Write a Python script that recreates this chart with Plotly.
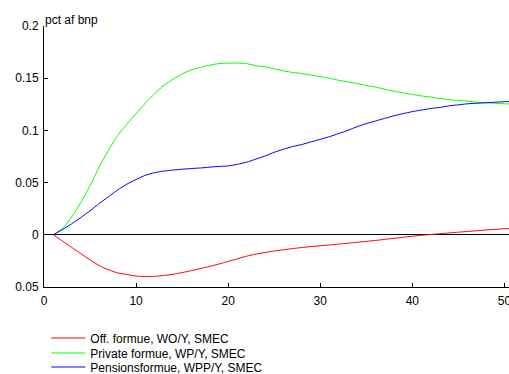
import plotly.graph_objects as go

# Years after the shock
years = list(range(1, 52))

# Off. formue, WO/Y (public wealth, share of GDP)
off_formue = [
    0.0, -0.006, -0.012, -0.018, -0.024, -0.0295, -0.0335, -0.0365, -0.038, -0.0395,
    -0.040, -0.0398, -0.039, -0.0378, -0.0362, -0.0343, -0.0323, -0.0303, -0.028, -0.0255,
    -0.023, -0.0205, -0.0185, -0.017, -0.0155, -0.0143, -0.0132, -0.0122, -0.0113, -0.0105,
    -0.0097, -0.0089, -0.0081, -0.0072, -0.0063, -0.0054, -0.0044, -0.0034, -0.0024, -0.0014,
    -0.0005, 0.0003, 0.001, 0.0018, 0.0025, 0.0032, 0.0039, 0.0046, 0.0052, 0.0058,
    0.0063,
]

# Private formue, WP/Y
private_formue = [
    0.0, 0.006, 0.017, 0.031, 0.047, 0.065, 0.081, 0.095, 0.106, 0.116,
    0.126, 0.135, 0.143, 0.149, 0.154, 0.158, 0.1605, 0.1625, 0.164, 0.1645,
    0.1645, 0.164, 0.162, 0.161, 0.159, 0.157, 0.1555, 0.1545, 0.153, 0.1515,
    0.150, 0.148, 0.1465, 0.145, 0.143, 0.1415, 0.1395, 0.1375, 0.136, 0.1345,
    0.133, 0.132, 0.1305, 0.1295, 0.1285, 0.128, 0.127, 0.1265, 0.126, 0.1255,
    0.125,
]

# Pensionsformue, WPP/Y
pensionsformue = [
    0.0, 0.005, 0.0105, 0.0165, 0.023, 0.030, 0.0365, 0.043, 0.0485, 0.053,
    0.057, 0.0595, 0.061, 0.062, 0.0628, 0.0635, 0.064, 0.0648, 0.0655, 0.066,
    0.0675, 0.0695, 0.0725, 0.0755, 0.079, 0.082, 0.0845, 0.0865, 0.089, 0.0915,
    0.094, 0.097, 0.100, 0.1035, 0.1065, 0.109, 0.1115, 0.114, 0.116, 0.118,
    0.1195, 0.121, 0.122, 0.1235, 0.1245, 0.1255, 0.126, 0.1265, 0.127, 0.1275,
    0.128,
]

y_ticks = [-0.05, 0, 0.05, 0.1, 0.15, 0.2]
y_tick_text = ["0.05", "0", "0.05", "0.1", "0.15", "0.2"]
x_ticks = [0, 10, 20, 30, 40, 50]

series = [
    ("Off. formue, WO/Y, SMEC", off_formue, "#ff0000", "legend"),
    ("Private formue, WP/Y, SMEC", private_formue, "#00ff00", "legend2"),
    ("Pensionsformue, WPP/Y, SMEC", pensionsformue, "#0000ff", "legend3"),
]

font_family = "Liberation Sans, Arial, Helvetica, sans-serif"

fig = go.Figure()
for name, vals, color, leg in series:
    fig.add_trace(go.Scatter(
        x=years, y=vals, name=name, mode="lines", legend=leg,
        line=dict(color=color, width=1, shape="spline", smoothing=0.6),
    ))


def legend_box(y):
    # one legend per series so the rows sit close together
    return dict(
        x=0.005, y=y, xanchor="left", yanchor="middle",
        bgcolor="rgba(0,0,0,0)", itemwidth=34,
        font=dict(size=12),
    )


fig.update_layout(
    width=509, height=374,
    margin=dict(l=44, r=0, t=26, b=87, autoexpand=False),
    paper_bgcolor="white", plot_bgcolor="white",
    font=dict(family=font_family, size=12, color="black"),
    showlegend=True,
    legend=legend_box(-0.1954),
    legend2=legend_box(-0.2529),
    legend3=legend_box(-0.3065),
    xaxis=dict(
        range=[0, 50.5], tickvals=x_ticks, ticks="inside", ticklen=4,
        ticklabeloverflow="allow", ticklabelstandoff=3,
        showline=True, linecolor="black", linewidth=1, mirror=False,
        showgrid=False, zeroline=False, tickcolor="black",
    ),
    yaxis=dict(
        range=[-0.05, 0.2], tickvals=y_ticks, ticktext=y_tick_text,
        ticks="inside", ticklen=4, ticklabelstandoff=2,
        showline=True, linecolor="black", linewidth=1,
        showgrid=False, zeroline=True, zerolinecolor="black", zerolinewidth=1,
        tickcolor="black",
    ),
    annotations=[dict(
        text="pct af bnp", x=0, y=1, xref="paper", yref="paper",
        xanchor="left", yanchor="bottom", showarrow=False,
        font=dict(size=12), xshift=-1, yshift=-3,
    )],
)

fig.write_html("out.html")
